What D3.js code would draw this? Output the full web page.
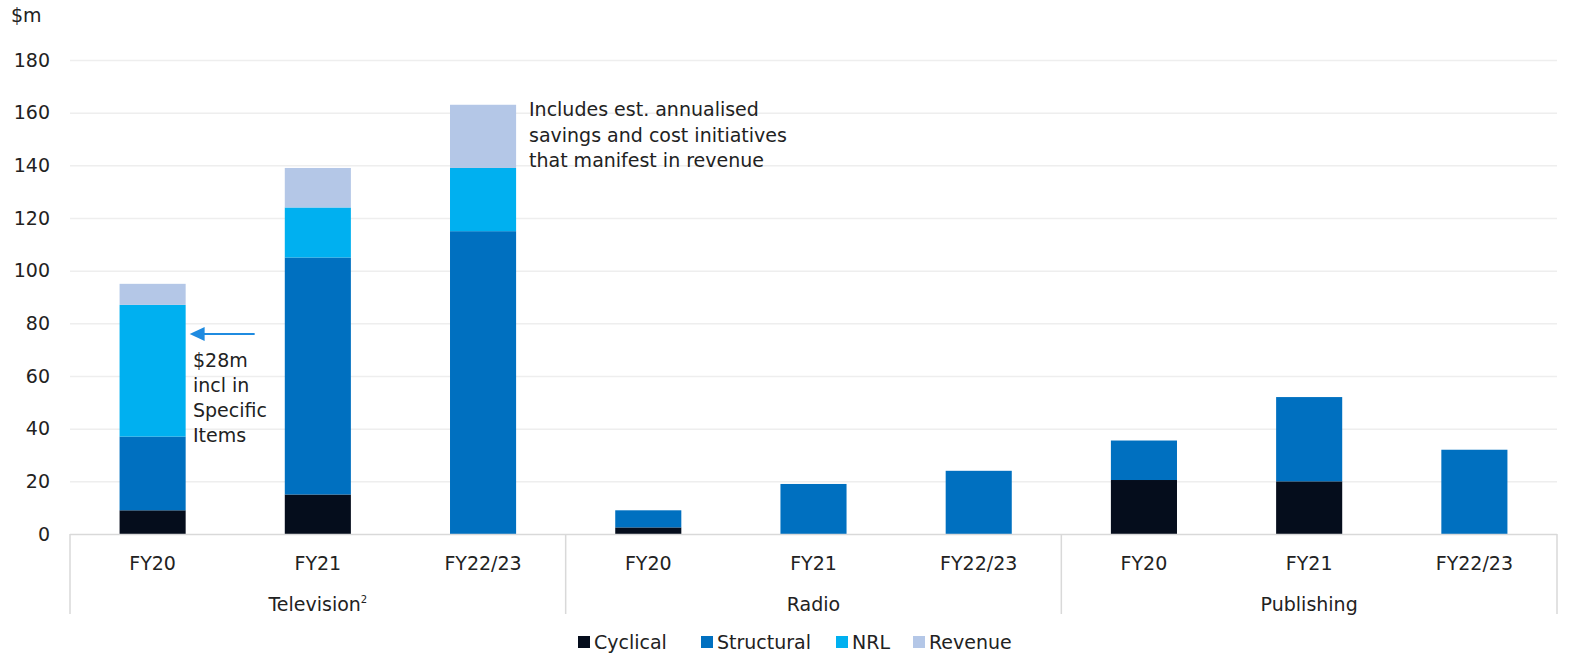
<!DOCTYPE html>
<html>
<head>
<meta charset="utf-8">
<script src="https://cdn.jsdelivr.net/npm/d3@7"></script>
<style>
  html, body { margin: 0; padding: 0; background: #fff; }
  svg { display: block; font-family: "DejaVu Sans", sans-serif; }
</style>
</head>
<body>
<svg id="chart" width="1576" height="654"></svg>
<script>
// ---- data ----
const groups = ["Television", "Radio", "Publishing"];
const periods = ["FY20", "FY21", "FY22/23"];
const seriesNames = ["Cyclical", "Structural", "NRL", "Revenue"];
// values per group x period (order: groups then periods)
const cyclical   = [9, 15, 0,   2.5, 0, 0,   20.5, 20, 0];
const structural = [28, 90, 115, 6.5, 19, 24, 15, 32, 32];
const nrl        = [50, 19, 24,  0, 0, 0,    0, 0, 0];
const revenue    = [8, 15, 24,   0, 0, 0,    0, 0, 0];
const yTicks = [0, 20, 40, 60, 80, 100, 120, 140, 160, 180];
const colors = ["#050d1c", "#0070c0", "#00b0f0", "#b4c7e7"];

// ---- layout ----
const plotL = 70, plotR = 1557, plotT = 60, plotB = 534;
const FS = 19, FONT = "DejaVu Sans, sans-serif", TXT = "#222";
const svg = d3.select("#chart");

const keys = [];
groups.forEach(g => periods.forEach(p => keys.push(g + "|" + p)));
const rows = keys.map((k, i) => ({
  key: k, group: k.split("|")[0], period: k.split("|")[1],
  Cyclical: cyclical[i], Structural: structural[i], NRL: nrl[i], Revenue: revenue[i]
}));

const x = d3.scaleBand().domain(keys).range([plotL, plotR]).paddingInner(0.6).paddingOuter(0.3);
const y = d3.scaleLinear().domain([0, 180]).range([plotB, plotT]);
const color = d3.scaleOrdinal().domain(seriesNames).range(colors);

// gridlines
svg.append("g")
  .attr("transform", `translate(${plotL},0)`)
  .call(d3.axisLeft(y).tickValues(yTicks.filter(t => t > 0)).tickSize(-(plotR - plotL)).tickFormat(""))
  .call(g => g.select(".domain").remove())
  .call(g => g.selectAll("line").attr("stroke", "#eeeeee").attr("stroke-width", 1.5));

// y tick labels
svg.append("g")
  .attr("transform", `translate(${plotL},0)`)
  .call(d3.axisLeft(y).tickValues(yTicks).tickSize(0).tickPadding(20).tickFormat(d3.format("d")))
  .call(g => g.select(".domain").remove())
  .call(g => g.selectAll("text").attr("font-size", FS).attr("fill", TXT).attr("font-family", FONT));

svg.append("text").attr("x", 11).attr("y", 22).attr("font-size", FS).attr("fill", TXT).text("$m");

// stacked bars
const stack = d3.stack().keys(seriesNames)(rows);
svg.append("g").selectAll("g").data(stack).join("g")
  .attr("fill", d => color(d.key))
  .selectAll("rect").data(d => d.filter(s => s[1] - s[0] > 0)).join("rect")
  .attr("x", d => x(d.data.key))
  .attr("width", x.bandwidth())
  .attr("y", d => y(d[1]))
  .attr("height", d => y(d[0]) - y(d[1]));

// x axis
const axisColor = "#d9d9d9";
svg.append("line").attr("x1", plotL).attr("x2", plotR).attr("y1", plotB + 0.5).attr("y2", plotB + 0.5)
  .attr("stroke", axisColor).attr("stroke-width", 1.5);

const step = x.step();
const groupW = step * periods.length;
const dividers = d3.range(groups.length + 1).map(i => plotL + i * groupW);
svg.append("g").selectAll("line").data(dividers).join("line")
  .attr("x1", d => d).attr("x2", d => d)
  .attr("y1", plotB).attr("y2", 614)
  .attr("stroke", axisColor).attr("stroke-width", 1.5);

// period labels
svg.append("g").selectAll("text").data(rows).join("text")
  .attr("x", d => x(d.key) + x.bandwidth() / 2)
  .attr("y", 570)
  .attr("text-anchor", "middle")
  .attr("font-size", FS).attr("fill", TXT)
  .text(d => d.period);

// group labels
const gl = svg.append("g").selectAll("text").data(groups).join("text")
  .attr("x", d => x(d + "|" + periods[1]) + x.bandwidth() / 2)
  .attr("y", 611)
  .attr("text-anchor", "middle")
  .attr("font-size", FS).attr("fill", TXT);
gl.append("tspan").text(d => d);
gl.filter(d => d === "Television").append("tspan").attr("dy", -8).attr("font-size", 10).text("2");

// annotations
const ann1 = ["Includes est. annualised", "savings and cost initiatives", "that manifest in revenue"];
svg.append("text").attr("font-size", FS).attr("fill", TXT)
  .selectAll("tspan").data(ann1).join("tspan")
  .attr("x", 529).attr("y", (d, i) => 116 + i * 25.5).text(d => d);

const ann2 = ["$28m", "incl in", "Specific", "Items"];
svg.append("text").attr("font-size", FS).attr("fill", TXT)
  .selectAll("tspan").data(ann2).join("tspan")
  .attr("x", 193).attr("y", (d, i) => 367 + i * 25).text(d => d);

// arrow
const ay = y(nrl[0] + structural[0] + cyclical[0]) + 29;
const ax0 = x(keys[0]) + x.bandwidth() + 4;
svg.append("line").attr("x1", ax0 + 12).attr("x2", ax0 + 65).attr("y1", ay).attr("y2", ay)
  .attr("stroke", "#1f8be0").attr("stroke-width", 2);
svg.append("path").attr("d", `M${ax0},${ay} L${ax0 + 15},${ay - 7} L${ax0 + 15},${ay + 7} Z`).attr("fill", "#1f8be0");

// legend
const legX = [578, 701, 836, 913];
const leg = svg.append("g").selectAll("g").data(seriesNames).join("g")
  .attr("transform", (d, i) => `translate(${legX[i]},636)`);
leg.append("rect").attr("width", 12).attr("height", 12).attr("fill", d => color(d));
leg.append("text").attr("x", 16).attr("y", 12.5).attr("font-size", FS).attr("fill", TXT).text(d => d);
</script>
</body>
</html>
